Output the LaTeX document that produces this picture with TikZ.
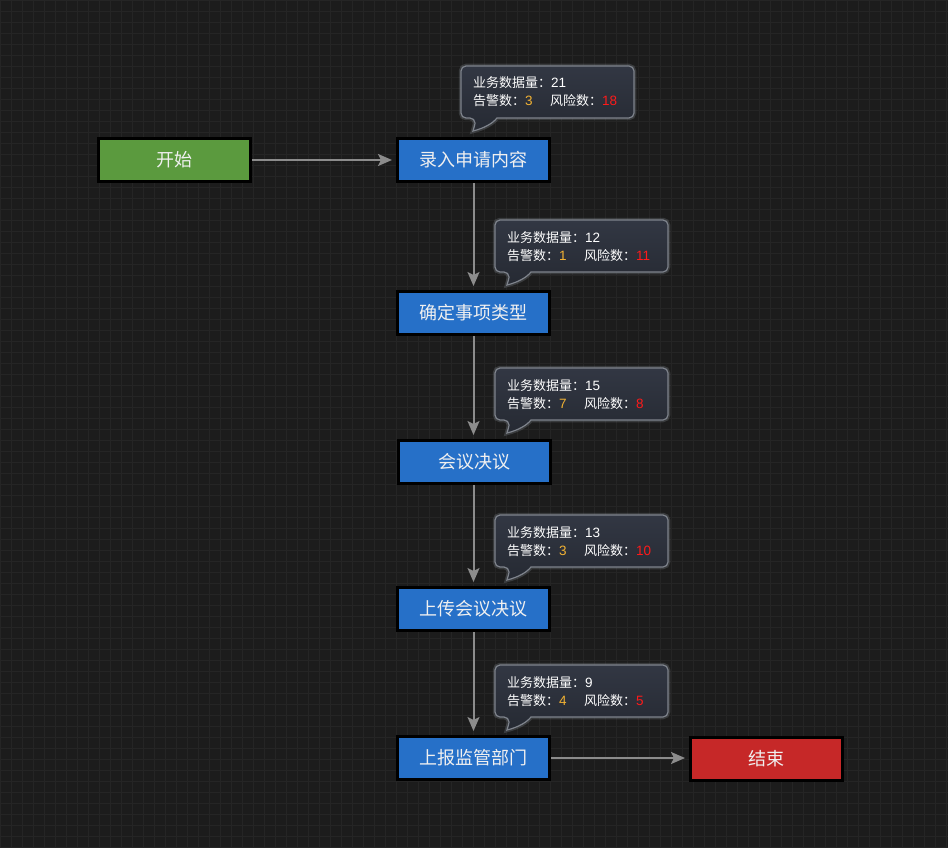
\documentclass[tikz,border=0pt]{standalone}
\usepackage{fontspec}
\setmainfont{Noto Sans CJK SC}
\newfontfamily\numfont{Liberation Sans}
\usetikzlibrary{arrows.meta}

\definecolor{bgdark}{HTML}{1C1C1C}
\definecolor{gridc}{HTML}{252525}
\definecolor{stepblue}{HTML}{2670C8}
\definecolor{startgreen}{HTML}{5B9A3E}
\definecolor{endred}{HTML}{C62828}
\definecolor{edgegray}{HTML}{8C8C8C}
\definecolor{bubbletop}{HTML}{323743}
\definecolor{bubblebot}{HTML}{262A33}
\definecolor{bubbleline}{HTML}{7E838C}
\definecolor{warnc}{HTML}{F2B233}
\definecolor{riskc}{HTML}{FF1A1A}
\definecolor{labelc}{HTML}{F0F0F0}

\tikzset{
  flowbox/.style={draw=black, line width=3, minimum width=152, minimum height=43,
    inner sep=0, text=labelc, font=\fontsize{18}{20}\selectfont},
  stepbox/.style={flowbox, fill=stepblue},
  startbox/.style={flowbox, fill=startgreen},
  endbox/.style={flowbox, fill=endred},
  flowarrow/.style={draw=edgegray, line width=2,
    -{Stealth[length=14, width=12, inset=3]}, shorten >=4},
  bubbleshape/.style={top color=bubbletop, bottom color=bubblebot,
    draw=bubbleline, line width=1.2},
  bubbleglow/.style={draw=bubbleline, line width=4.5, opacity=0.3},
  bubbletext/.style={anchor=base west, inner sep=0, text=white,
    font=\fontsize{13}{15}\selectfont},
}

% digits in the bubbles
\newcommand\statnum[1]{{\numfont\fontsize{13.5}{15}\selectfont #1}}

% statistics bubble: #1 name, #2 left x, #3 top y, #4 total, #5 warnings, #6 risks
\newcommand\statbubble[6]{%
  \foreach \sty in {bubbleglow,bubbleshape}{%
    \path[\sty] ({#2+14},{#3+52}) .. controls ({#2+14},{#3+58}) .. ({#2+12},{#3+65})
      .. controls ({#2+24},{#3+62}) and ({#2+32},{#3+57}) .. ({#2+36},{#3+52})
      [rounded corners=5] -- ({#2+173},{#3+52}) -- ({#2+173},{#3}) -- ({#2},{#3})
      -- ({#2},{#3+52}) -- cycle;
  }
  \node[bubbletext] (#1-total) at ({#2+12},{#3+22}) {业务数据量：\statnum{#4}};
  \node[bubbletext] (#1-warn) at ({#2+12},{#3+40}) {告警数：\textcolor{warnc}{\statnum{#5}}};
  \node[bubbletext] (#1-risk) at ({#2+89},{#3+40}) {风险数：\textcolor{riskc}{\statnum{#6}}};
}

\begin{document}
\begin{tikzpicture}[x=1pt, y=-1pt]
  \useasboundingbox (0,0) rectangle (948,848);
  \fill[bgdark] (0,0) rectangle (948,848);
  % background grid
  \foreach \gx in {0,11,...,948} \draw[gridc, line width=0.8] (\gx,0) -- (\gx,848);
  \foreach \gy in {0,11,...,848} \draw[gridc, line width=0.8] (0,\gy) -- (948,\gy);

  % process steps
  \node[startbox] (start)   at (174.5,160) {开始};
  \node[stepbox]  (entry)   at (473.5,160) {录入申请内容};
  \node[stepbox]  (classify) at (473.5,313) {确定事项类型};
  \node[stepbox]  (meeting) at (474.5,462) {会议决议};
  \node[stepbox]  (upload)  at (473.5,609) {上传会议决议};
  \node[stepbox]  (report)  at (473.5,758) {上报监管部门};
  \node[endbox]   (finish)  at (766.5,759) {结束};

  % connectors
  \draw[flowarrow] (start.east) -- (entry.west);
  \draw[flowarrow] (entry.south) -- (classify.north);
  \draw[flowarrow] (classify.south) -- (classify.south |- meeting.north);
  \draw[flowarrow] (meeting.south -| upload.south) -- (upload.north);
  \draw[flowarrow] (upload.south) -- (report.north);
  \draw[flowarrow] (report.east) -- (report.east -| finish.west);

  % statistics per step
  \statbubble{s1}{461}{66}{21}{3}{18}
  \statbubble{s2}{495}{220}{12}{1}{11}
  \statbubble{s3}{495}{368}{15}{7}{8}
  \statbubble{s4}{495}{515}{13}{3}{10}
  \statbubble{s5}{495}{665}{9}{4}{5}
\end{tikzpicture}
\end{document}
